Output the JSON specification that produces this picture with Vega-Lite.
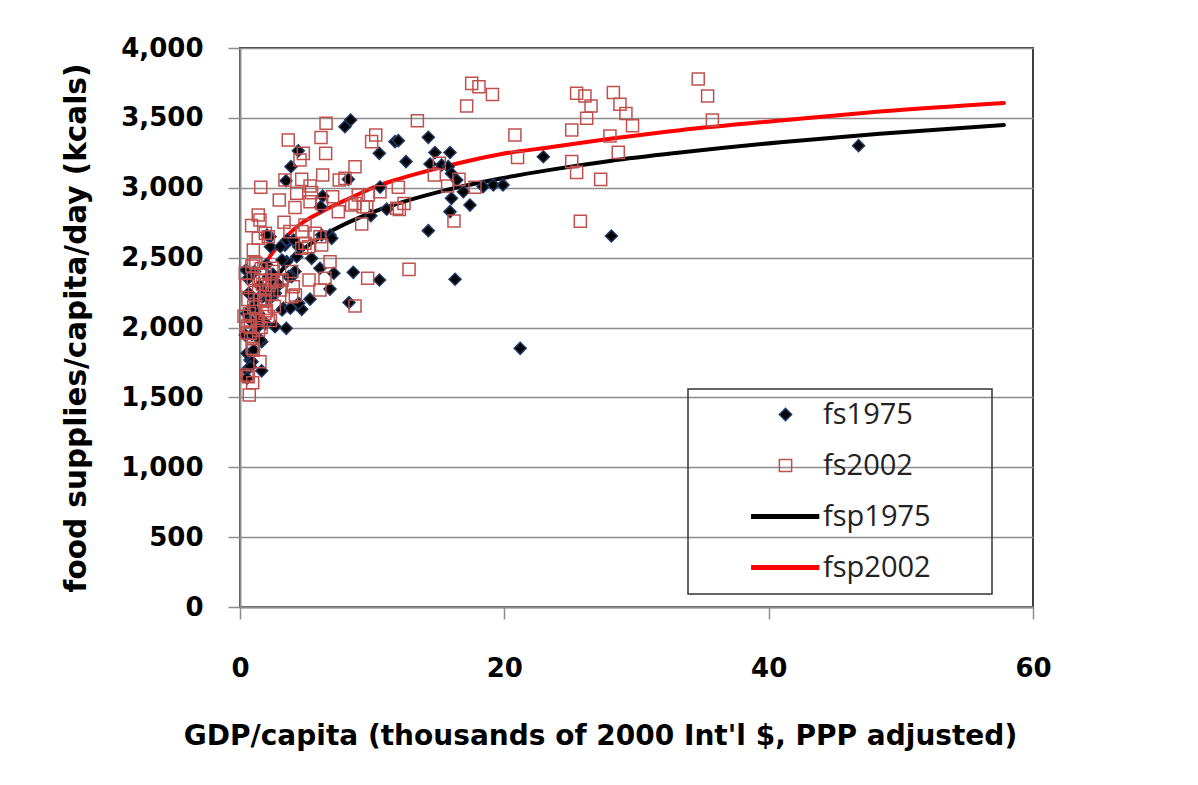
{
  "$schema": "https://vega.github.io/schema/vega-lite/v6.json",
  "width": 793,
  "height": 559,
  "autosize": {"type": "none"},
  "padding": {"left": 240, "top": 48, "right": 165, "bottom": 178},
  "background": "white",
  "config": {
    "view": {"stroke": "#404040", "strokeWidth": 2},
    "axis": {
      "labelFont": "DejaVu Sans", "labelFontWeight": "bold", "labelFontSize": 26, "labelColor": "#000",
      "titleFont": "DejaVu Sans", "titleFontWeight": "bold", "titleFontSize": 28, "titleColor": "#000",
      "tickColor": "#8c8c8c", "tickWidth": 1.5, "tickSize": 12,
      "domainColor": "#8c8c8c", "domainWidth": 2,
      "gridColor": "#8c8c8c", "gridWidth": 1.5, "gridOpacity": 1
    },
    "legend": {
      "labelFont": "Open Sans", "labelFontSize": 29, "labelFontWeight": "normal", "labelColor": "#222",
      "padding": 11, "symbolOffset": 72, "labelOffset": 23, "rowPadding": 21,
      "symbolSize": 150, "symbolStrokeWidth": 1.5,
      "strokeColor": "#333", "strokeWidth": 1.5, "fillColor": null,
      "titleFontSize": 20, "titlePadding": 50
    }
  },
  "datasets": {
    "fit": [
      {"series": "fsp1975", "gdp": 1.7, "kcal": 2190},
      {"series": "fsp1975", "gdp": 2.5, "kcal": 2328},
      {"series": "fsp1975", "gdp": 3.5, "kcal": 2448},
      {"series": "fsp1975", "gdp": 5.07, "kcal": 2580},
      {"series": "fsp1975", "gdp": 7.0, "kcal": 2695},
      {"series": "fsp1975", "gdp": 8.5, "kcal": 2765},
      {"series": "fsp1975", "gdp": 10.6, "kcal": 2845},
      {"series": "fsp1975", "gdp": 12.1, "kcal": 2892},
      {"series": "fsp1975", "gdp": 15.0, "kcal": 2969},
      {"series": "fsp1975", "gdp": 19.7, "kcal": 3066},
      {"series": "fsp1975", "gdp": 23.45, "kcal": 3128},
      {"series": "fsp1975", "gdp": 28.0, "kcal": 3192},
      {"series": "fsp1975", "gdp": 33.3, "kcal": 3252},
      {"series": "fsp1975", "gdp": 40.9, "kcal": 3326},
      {"series": "fsp1975", "gdp": 48.4, "kcal": 3386},
      {"series": "fsp1975", "gdp": 57.8, "kcal": 3449},
      {"series": "fsp2002", "gdp": 1.7, "kcal": 2426},
      {"series": "fsp2002", "gdp": 2.5, "kcal": 2540},
      {"series": "fsp2002", "gdp": 3.5, "kcal": 2650},
      {"series": "fsp2002", "gdp": 4.5, "kcal": 2735},
      {"series": "fsp2002", "gdp": 6.0, "kcal": 2820},
      {"series": "fsp2002", "gdp": 8.3, "kcal": 2925},
      {"series": "fsp2002", "gdp": 10.6, "kcal": 3020},
      {"series": "fsp2002", "gdp": 12.1, "kcal": 3065},
      {"series": "fsp2002", "gdp": 15.0, "kcal": 3140},
      {"series": "fsp2002", "gdp": 19.7, "kcal": 3240},
      {"series": "fsp2002", "gdp": 23.45, "kcal": 3290},
      {"series": "fsp2002", "gdp": 28.0, "kcal": 3350},
      {"series": "fsp2002", "gdp": 33.3, "kcal": 3412},
      {"series": "fsp2002", "gdp": 40.9, "kcal": 3482},
      {"series": "fsp2002", "gdp": 48.4, "kcal": 3545},
      {"series": "fsp2002", "gdp": 57.8, "kcal": 3606}
    ],
    "pts": [
      {"series": "fs1975", "gdp": 8.37, "kcal": 3485}, {"series": "fs1975", "gdp": 7.94, "kcal": 3437},
      {"series": "fs1975", "gdp": 4.41, "kcal": 3265}, {"series": "fs1975", "gdp": 10.54, "kcal": 3246},
      {"series": "fs1975", "gdp": 3.86, "kcal": 3151}, {"series": "fs1975", "gdp": 3.48, "kcal": 3050},
      {"series": "fs1975", "gdp": 8.2, "kcal": 3060}, {"series": "fs1975", "gdp": 6.26, "kcal": 2940},
      {"series": "fs1975", "gdp": 6.1, "kcal": 2864}, {"series": "fs1975", "gdp": 9.9, "kcal": 2800},
      {"series": "fs1975", "gdp": 11.1, "kcal": 2847}, {"series": "fs1975", "gdp": 6.18, "kcal": 2662},
      {"series": "fs1975", "gdp": 2.27, "kcal": 2650}, {"series": "fs1975", "gdp": 6.81, "kcal": 2662},
      {"series": "fs1975", "gdp": 3.4, "kcal": 2590}, {"series": "fs1975", "gdp": 2.3, "kcal": 2578},
      {"series": "fs1975", "gdp": 0.45, "kcal": 2411}, {"series": "fs1975", "gdp": 3.53, "kcal": 2471},
      {"series": "fs1975", "gdp": 4.29, "kcal": 2507}, {"series": "fs1975", "gdp": 5.42, "kcal": 2495},
      {"series": "fs1975", "gdp": 6.05, "kcal": 2424}, {"series": "fs1975", "gdp": 4.16, "kcal": 2400},
      {"series": "fs1975", "gdp": 7.1, "kcal": 2388}, {"series": "fs1975", "gdp": 8.57, "kcal": 2395},
      {"series": "fs1975", "gdp": 10.55, "kcal": 2340}, {"series": "fs1975", "gdp": 6.81, "kcal": 2275},
      {"series": "fs1975", "gdp": 5.3, "kcal": 2203}, {"series": "fs1975", "gdp": 4.67, "kcal": 2130},
      {"series": "fs1975", "gdp": 3.28, "kcal": 2138}, {"series": "fs1975", "gdp": 2.65, "kcal": 2006},
      {"series": "fs1975", "gdp": 3.5, "kcal": 1994}, {"series": "fs1975", "gdp": 8.25, "kcal": 2179},
      {"series": "fs1975", "gdp": 1.64, "kcal": 1898}, {"series": "fs1975", "gdp": 0.76, "kcal": 1767},
      {"series": "fs1975", "gdp": 1.64, "kcal": 1690}, {"series": "fs1975", "gdp": 0.5, "kcal": 1696},
      {"series": "fs1975", "gdp": 3.91, "kcal": 2364}, {"series": "fs1975", "gdp": 11.73, "kcal": 3330},
      {"series": "fs1975", "gdp": 6.94, "kcal": 2638}, {"series": "fs1975", "gdp": 11.98, "kcal": 3337},
      {"series": "fs1975", "gdp": 14.25, "kcal": 3361}, {"series": "fs1975", "gdp": 12.56, "kcal": 3187},
      {"series": "fs1975", "gdp": 14.75, "kcal": 3252}, {"series": "fs1975", "gdp": 15.89, "kcal": 3252},
      {"series": "fs1975", "gdp": 14.38, "kcal": 3170}, {"series": "fs1975", "gdp": 15.26, "kcal": 3163},
      {"series": "fs1975", "gdp": 15.76, "kcal": 3151}, {"series": "fs1975", "gdp": 16.0, "kcal": 3102},
      {"series": "fs1975", "gdp": 16.4, "kcal": 3055}, {"series": "fs1975", "gdp": 16.9, "kcal": 2972},
      {"series": "fs1975", "gdp": 16.0, "kcal": 2924}, {"series": "fs1975", "gdp": 15.89, "kcal": 2829},
      {"series": "fs1975", "gdp": 17.4, "kcal": 2876}, {"series": "fs1975", "gdp": 18.4, "kcal": 3008},
      {"series": "fs1975", "gdp": 19.17, "kcal": 3020}, {"series": "fs1975", "gdp": 19.9, "kcal": 3020},
      {"series": "fs1975", "gdp": 14.25, "kcal": 2693}, {"series": "fs1975", "gdp": 10.6, "kcal": 3005},
      {"series": "fs1975", "gdp": 22.95, "kcal": 3222}, {"series": "fs1975", "gdp": 16.27, "kcal": 2345},
      {"series": "fs1975", "gdp": 21.2, "kcal": 1851}, {"series": "fs1975", "gdp": 28.1, "kcal": 2655},
      {"series": "fs1975", "gdp": 46.8, "kcal": 3301}, {"series": "fs1975", "gdp": 2.04, "kcal": 2662},
      {"series": "fs1975", "gdp": 3.05, "kcal": 2578}, {"series": "fs1975", "gdp": 3.56, "kcal": 2626},
      {"series": "fs1975", "gdp": 4.44, "kcal": 2578}, {"series": "fs1975", "gdp": 4.06, "kcal": 2626},
      {"series": "fs1975", "gdp": 3.18, "kcal": 2483}, {"series": "fs1975", "gdp": 3.68, "kcal": 2364},
      {"series": "fs1975", "gdp": 2.93, "kcal": 2304}, {"series": "fs1975", "gdp": 2.17, "kcal": 2364},
      {"series": "fs1975", "gdp": 0.66, "kcal": 2245}, {"series": "fs1975", "gdp": 2.67, "kcal": 2245},
      {"series": "fs1975", "gdp": 3.18, "kcal": 2125}, {"series": "fs1975", "gdp": 3.81, "kcal": 2138},
      {"series": "fs1975", "gdp": 4.44, "kcal": 2173}, {"series": "fs1975", "gdp": 1.92, "kcal": 2030},
      {"series": "fs1975", "gdp": 0.4, "kcal": 1946}, {"series": "fs1975", "gdp": 0.53, "kcal": 1815},
      {"series": "fs1975", "gdp": 0.91, "kcal": 1755}, {"series": "fs1975", "gdp": 0.53, "kcal": 1637},
      {"series": "fs1975", "gdp": 0.78, "kcal": 1720}, {"series": "fs1975", "gdp": 1.54, "kcal": 1911},
      {"series": "fs1975", "gdp": 1.04, "kcal": 1839}, {"series": "fs1975", "gdp": 0.5, "kcal": 2100},
      {"series": "fs1975", "gdp": 0.8, "kcal": 2050}, {"series": "fs1975", "gdp": 1.0, "kcal": 2150},
      {"series": "fs1975", "gdp": 1.2, "kcal": 2200}, {"series": "fs1975", "gdp": 1.5, "kcal": 2300},
      {"series": "fs1975", "gdp": 1.3, "kcal": 2000}, {"series": "fs1975", "gdp": 0.9, "kcal": 1950},
      {"series": "fs1975", "gdp": 1.8, "kcal": 2250}, {"series": "fs1975", "gdp": 2.2, "kcal": 2200},
      {"series": "fs1975", "gdp": 0.6, "kcal": 2350}, {"series": "fs1975", "gdp": 1.1, "kcal": 2400},
      {"series": "fs1975", "gdp": 1.4, "kcal": 2100}, {"series": "fs1975", "gdp": 2.0, "kcal": 2450},
      {"series": "fs1975", "gdp": 1.7, "kcal": 2050}, {"series": "fs1975", "gdp": 2.5, "kcal": 2380},

      {"series": "fs2002", "gdp": 6.51, "kcal": 3461}, {"series": "fs2002", "gdp": 3.65, "kcal": 3342},
      {"series": "fs2002", "gdp": 6.13, "kcal": 3359}, {"series": "fs2002", "gdp": 10.27, "kcal": 3377},
      {"series": "fs2002", "gdp": 9.96, "kcal": 3330}, {"series": "fs2002", "gdp": 4.79, "kcal": 3246},
      {"series": "fs2002", "gdp": 6.48, "kcal": 3246}, {"series": "fs2002", "gdp": 4.54, "kcal": 3199},
      {"series": "fs2002", "gdp": 8.7, "kcal": 3151}, {"series": "fs2002", "gdp": 6.26, "kcal": 3091},
      {"series": "fs2002", "gdp": 4.67, "kcal": 3060}, {"series": "fs2002", "gdp": 3.4, "kcal": 3055},
      {"series": "fs2002", "gdp": 1.57, "kcal": 3003}, {"series": "fs2002", "gdp": 7.51, "kcal": 3055},
      {"series": "fs2002", "gdp": 7.94, "kcal": 3067}, {"series": "fs2002", "gdp": 5.3, "kcal": 3013},
      {"series": "fs2002", "gdp": 4.29, "kcal": 2960}, {"series": "fs2002", "gdp": 5.42, "kcal": 2965},
      {"series": "fs2002", "gdp": 2.97, "kcal": 2912}, {"series": "fs2002", "gdp": 7.01, "kcal": 2936},
      {"series": "fs2002", "gdp": 8.95, "kcal": 2948}, {"series": "fs2002", "gdp": 9.71, "kcal": 2948},
      {"series": "fs2002", "gdp": 10.59, "kcal": 2972}, {"series": "fs2002", "gdp": 5.3, "kcal": 2900},
      {"series": "fs2002", "gdp": 6.18, "kcal": 2888}, {"series": "fs2002", "gdp": 4.16, "kcal": 2858},
      {"series": "fs2002", "gdp": 8.7, "kcal": 2888}, {"series": "fs2002", "gdp": 9.59, "kcal": 2864},
      {"series": "fs2002", "gdp": 1.38, "kcal": 2805}, {"series": "fs2002", "gdp": 1.51, "kcal": 2769},
      {"series": "fs2002", "gdp": 7.44, "kcal": 2829}, {"series": "fs2002", "gdp": 0.88, "kcal": 2729},
      {"series": "fs2002", "gdp": 3.33, "kcal": 2753}, {"series": "fs2002", "gdp": 9.21, "kcal": 2741},
      {"series": "fs2002", "gdp": 4.92, "kcal": 2733}, {"series": "fs2002", "gdp": 3.78, "kcal": 2686},
      {"series": "fs2002", "gdp": 5.67, "kcal": 2674}, {"series": "fs2002", "gdp": 1.38, "kcal": 2638},
      {"series": "fs2002", "gdp": 2.14, "kcal": 2650}, {"series": "fs2002", "gdp": 1.01, "kcal": 2555},
      {"series": "fs2002", "gdp": 4.92, "kcal": 2603}, {"series": "fs2002", "gdp": 6.18, "kcal": 2590},
      {"series": "fs2002", "gdp": 4.67, "kcal": 2567}, {"series": "fs2002", "gdp": 6.81, "kcal": 2471},
      {"series": "fs2002", "gdp": 2.52, "kcal": 2400}, {"series": "fs2002", "gdp": 3.91, "kcal": 2400},
      {"series": "fs2002", "gdp": 5.22, "kcal": 2340}, {"series": "fs2002", "gdp": 6.43, "kcal": 2352},
      {"series": "fs2002", "gdp": 9.66, "kcal": 2352}, {"series": "fs2002", "gdp": 4.03, "kcal": 2292},
      {"series": "fs2002", "gdp": 3.03, "kcal": 2269}, {"series": "fs2002", "gdp": 6.05, "kcal": 2269},
      {"series": "fs2002", "gdp": 3.91, "kcal": 2221}, {"series": "fs2002", "gdp": 8.7, "kcal": 2154},
      {"series": "fs2002", "gdp": 1.89, "kcal": 2102}, {"series": "fs2002", "gdp": 2.14, "kcal": 2078},
      {"series": "fs2002", "gdp": 1.01, "kcal": 1839}, {"series": "fs2002", "gdp": 1.51, "kcal": 1755},
      {"series": "fs2002", "gdp": 0.63, "kcal": 1648}, {"series": "fs2002", "gdp": 0.96, "kcal": 1605},
      {"series": "fs2002", "gdp": 0.7, "kcal": 1517}, {"series": "fs2002", "gdp": 1.92, "kcal": 2674},
      {"series": "fs2002", "gdp": 4.69, "kcal": 2686}, {"series": "fs2002", "gdp": 5.2, "kcal": 2578},
      {"series": "fs2002", "gdp": 1.04, "kcal": 2471}, {"series": "fs2002", "gdp": 2.42, "kcal": 2424},
      {"series": "fs2002", "gdp": 1.54, "kcal": 2340}, {"series": "fs2002", "gdp": 2.42, "kcal": 2340},
      {"series": "fs2002", "gdp": 3.18, "kcal": 2340}, {"series": "fs2002", "gdp": 1.92, "kcal": 2269},
      {"series": "fs2002", "gdp": 4.19, "kcal": 2233}, {"series": "fs2002", "gdp": 1.92, "kcal": 2197},
      {"series": "fs2002", "gdp": 1.04, "kcal": 2149}, {"series": "fs2002", "gdp": 0.78, "kcal": 2054},
      {"series": "fs2002", "gdp": 0.78, "kcal": 1958}, {"series": "fs2002", "gdp": 0.91, "kcal": 1851},
      {"series": "fs2002", "gdp": 0.53, "kcal": 1660}, {"series": "fs2002", "gdp": 8.45, "kcal": 2876},
      {"series": "fs2002", "gdp": 9.33, "kcal": 2864}, {"series": "fs2002", "gdp": 11.86, "kcal": 2853},
      {"series": "fs2002", "gdp": 6.05, "kcal": 2650}, {"series": "fs2002", "gdp": 17.53, "kcal": 3747},
      {"series": "fs2002", "gdp": 18.08, "kcal": 3723}, {"series": "fs2002", "gdp": 19.1, "kcal": 3668},
      {"series": "fs2002", "gdp": 17.15, "kcal": 3585}, {"series": "fs2002", "gdp": 13.42, "kcal": 3480},
      {"series": "fs2002", "gdp": 15.08, "kcal": 3175}, {"series": "fs2002", "gdp": 14.7, "kcal": 3091},
      {"series": "fs2002", "gdp": 16.57, "kcal": 3060}, {"series": "fs2002", "gdp": 15.71, "kcal": 3013},
      {"series": "fs2002", "gdp": 17.78, "kcal": 3003}, {"series": "fs2002", "gdp": 11.98, "kcal": 3003},
      {"series": "fs2002", "gdp": 12.41, "kcal": 2888}, {"series": "fs2002", "gdp": 12.06, "kcal": 2845},
      {"series": "fs2002", "gdp": 16.19, "kcal": 2762}, {"series": "fs2002", "gdp": 12.79, "kcal": 2416},
      {"series": "fs2002", "gdp": 20.8, "kcal": 3377}, {"series": "fs2002", "gdp": 21.0, "kcal": 3217},
      {"series": "fs2002", "gdp": 25.1, "kcal": 3413}, {"series": "fs2002", "gdp": 25.47, "kcal": 3676},
      {"series": "fs2002", "gdp": 25.1, "kcal": 3187}, {"series": "fs2002", "gdp": 25.47, "kcal": 3110},
      {"series": "fs2002", "gdp": 25.75, "kcal": 2760}, {"series": "fs2002", "gdp": 34.67, "kcal": 3778},
      {"series": "fs2002", "gdp": 35.38, "kcal": 3657}, {"series": "fs2002", "gdp": 35.74, "kcal": 3485},
      {"series": "fs2002", "gdp": 26.1, "kcal": 3657}, {"series": "fs2002", "gdp": 26.56, "kcal": 3585},
      {"series": "fs2002", "gdp": 28.25, "kcal": 3681}, {"series": "fs2002", "gdp": 28.75, "kcal": 3597},
      {"series": "fs2002", "gdp": 29.2, "kcal": 3531}, {"series": "fs2002", "gdp": 29.7, "kcal": 3444},
      {"series": "fs2002", "gdp": 26.23, "kcal": 3497}, {"series": "fs2002", "gdp": 27.99, "kcal": 3370},
      {"series": "fs2002", "gdp": 28.62, "kcal": 3253}, {"series": "fs2002", "gdp": 27.29, "kcal": 3060},
      {"series": "fs2002", "gdp": 0.4, "kcal": 2390}, {"series": "fs2002", "gdp": 0.5, "kcal": 2300},
      {"series": "fs2002", "gdp": 0.6, "kcal": 2200}, {"series": "fs2002", "gdp": 0.7, "kcal": 2100},
      {"series": "fs2002", "gdp": 0.8, "kcal": 2000}, {"series": "fs2002", "gdp": 0.5, "kcal": 1960},
      {"series": "fs2002", "gdp": 1.0, "kcal": 2350}, {"series": "fs2002", "gdp": 1.1, "kcal": 2250},
      {"series": "fs2002", "gdp": 1.2, "kcal": 2150}, {"series": "fs2002", "gdp": 1.3, "kcal": 2050},
      {"series": "fs2002", "gdp": 1.4, "kcal": 1980}, {"series": "fs2002", "gdp": 1.6, "kcal": 2420},
      {"series": "fs2002", "gdp": 1.7, "kcal": 2310}, {"series": "fs2002", "gdp": 1.8, "kcal": 2190},
      {"series": "fs2002", "gdp": 2.0, "kcal": 2120}, {"series": "fs2002", "gdp": 2.2, "kcal": 2300},
      {"series": "fs2002", "gdp": 2.4, "kcal": 2240}, {"series": "fs2002", "gdp": 0.9, "kcal": 2440},
      {"series": "fs2002", "gdp": 1.5, "kcal": 2200}, {"series": "fs2002", "gdp": 0.3, "kcal": 2080},
      {"series": "fs2002", "gdp": 1.9, "kcal": 2380}, {"series": "fs2002", "gdp": 2.3, "kcal": 2050},
      {"series": "fs2002", "gdp": 0.6, "kcal": 2010}, {"series": "fs2002", "gdp": 1.2, "kcal": 2460},
      {"series": "fs2002", "gdp": 2.6, "kcal": 2150}, {"series": "fs2002", "gdp": 2.8, "kcal": 2330},
      {"series": "fs2002", "gdp": 1.0, "kcal": 1920}, {"series": "fs2002", "gdp": 1.6, "kcal": 2000}
    ]
  },
  "encoding": {
    "x": {
      "field": "gdp", "type": "quantitative",
      "scale": {"domain": [0, 60], "nice": false},
      "axis": {"values": [0, 20, 40, 60], "grid": false, "labelFlush": false,
               "title": "GDP/capita (thousands of 2000 Int'l $, PPP adjusted)",
               "labelPadding": 36, "titlePadding": 41, "titleX": 360}
    },
    "y": {
      "field": "kcal", "type": "quantitative",
      "scale": {"domain": [0, 4000], "nice": false},
      "axis": {"values": [0, 500, 1000, 1500, 2000, 2500, 3000, 3500, 4000], "format": ",d",
               "grid": true, "title": "food supplies/capita/day (kcals)",
               "titleFontSize": 29.5, "labelPadding": 25, "titlePadding": 29}
    }
  },
  "layer": [
    {
      "data": {"name": "fit"},
      "mark": {"type": "line", "strokeWidth": 4, "interpolate": "monotone", "strokeCap": "round"},
      "encoding": {
        "stroke": {
          "field": "series", "type": "nominal",
          "scale": {"domain": ["fs1975", "fs2002", "fsp1975", "fsp2002"],
                    "range": ["#1f3864", "#c0504d", "#000000", "#ff0000"]},
          "legend": {"orient": "none", "legendX": 448, "legendY": 341, "title": "\u2003", "titleOrient": "right"}
        }
      }
    },
    {
      "data": {"name": "pts"},
      "mark": {"type": "point", "strokeWidth": 1.5, "opacity": 1, "size": 145},
      "encoding": {
        "shape": {
          "field": "series", "type": "nominal",
          "scale": {"domain": ["fs1975", "fs2002", "fsp1975", "fsp2002"],
                    "range": ["diamond", "square", "M-5.5,-0.3H5.4V0.3H-5.5Z", "M-5.5,-0.3H5.4V0.3H-5.5Z"]},
          "legend": {"orient": "none", "legendX": 448, "legendY": 341, "title": "\u2003", "titleOrient": "right"}
        },
        "fill": {
          "field": "series", "type": "nominal",
          "scale": {"domain": ["fs1975", "fs2002", "fsp1975", "fsp2002"],
                    "range": ["#000000", "transparent", "#000000", "#ff0000"]},
          "legend": {"orient": "none", "legendX": 448, "legendY": 341, "title": "\u2003", "titleOrient": "right"}
        },
        "stroke": {
          "field": "series", "type": "nominal",
          "scale": {"domain": ["fs1975", "fs2002", "fsp1975", "fsp2002"],
                    "range": ["#1f3864", "#c0504d", "#000000", "#ff0000"]},
          "legend": {"orient": "none", "legendX": 448, "legendY": 341, "title": "\u2003", "titleOrient": "right"}
        }
      }
    }
  ]
}
